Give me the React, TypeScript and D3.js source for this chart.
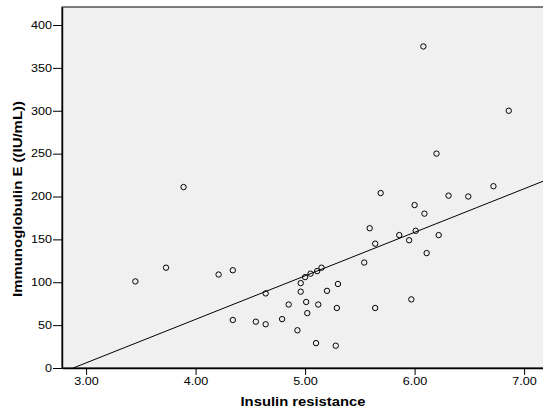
import React, { useEffect, useRef } from "react";
import * as d3 from "d3";

// Insulin resistance (x) vs Immunoglobulin E in IU/mL (y)
const insulinResistance = [
  3.89, 5.69, 6.31, 6.49, 6.72, 6.0, 6.09, 5.59, 5.86, 6.01, 6.22, 5.95, 5.64,
  6.11, 5.54, 3.45, 3.73, 4.21, 4.34, 5.15, 5.11, 5.05, 5.0, 4.96, 5.3, 4.64,
  4.96, 5.2, 5.97, 4.85, 5.01, 5.12, 5.29, 5.64, 5.02, 4.34, 4.55, 4.64, 4.79,
  4.93, 5.1, 5.28, 6.08, 6.86, 6.2,
];
const immunoglobulinE = [
  211, 204, 201, 200, 212, 190, 180, 163, 155, 160, 155, 149, 145, 134, 123,
  101, 117, 109, 114, 117, 113, 110, 106, 99, 98, 87, 89, 90, 80, 74, 77, 74,
  70, 70, 64, 56, 54, 51, 57, 44, 29, 26, 375, 300, 250,
];

// fitted line: y = intercept + slope * x
const fitIntercept = -146.3;
const fitSlope = 50.76;

const xTicks = [3, 4, 5, 6, 7];
const yTicks = [0, 50, 100, 150, 200, 250, 300, 350, 400];

const xLabel = "Insulin resistance";
const yLabel = "Immunoglobulin E ((IU/mL))";

export default function App() {
  const ref = useRef<SVGSVGElement>(null);

  useEffect(() => {
    const width = 543,
      height = 412;
    const margin = { top: 7, left: 62, right: -3, bottom: 44 };
    const font = "'Liberation Sans', Arial, sans-serif";

    const svg = d3.select(ref.current);
    svg.selectAll("*").remove();

    const x = d3
      .scaleLinear()
      .domain([2.78, 7.2])
      .range([margin.left, width - margin.right]);
    const y = d3
      .scaleLinear()
      .domain([0, 421])
      .range([height - margin.bottom, margin.top]);

    const [x0, x1] = x.range();
    const [yb, yt] = y.range();

    // plot background
    svg
      .append("rect")
      .attr("x", x0)
      .attr("y", yt)
      .attr("width", x1 - x0)
      .attr("height", yb - yt)
      .attr("fill", "#f0f0f0")
      .attr("stroke", "#000")
      .attr("stroke-width", 1);

    // fitted line, clipped to y >= 0
    const lineStart = -fitIntercept / fitSlope;
    const lineEnd = x.domain()[1];
    const line = d3
      .line<number>()
      .x((d) => x(d))
      .y((d) => y(fitIntercept + fitSlope * d));
    svg
      .append("path")
      .attr("d", line([lineStart, lineEnd]))
      .attr("fill", "none")
      .attr("stroke", "#000")
      .attr("stroke-width", 1);

    // points
    svg
      .append("g")
      .selectAll("circle")
      .data(insulinResistance.map((v, i) => [v, immunoglobulinE[i]]))
      .enter()
      .append("circle")
      .attr("cx", (d) => x(d[0]))
      .attr("cy", (d) => y(d[1]))
      .attr("r", 2.7)
      .attr("fill", "none")
      .attr("stroke", "#000")
      .attr("stroke-width", 1);

    // x axis
    const gx = svg
      .append("g")
      .attr("transform", `translate(0, ${yb})`)
      .call(
        d3
          .axisBottom(x)
          .tickValues(xTicks)
          .tickSize(7)
          .tickSizeOuter(0)
          .tickPadding(3)
          .tickFormat((d) => d3.format(".2f")(d as number))
      );
    gx.select(".domain").attr("stroke-width", 1.4);

    // y axis
    const gy = svg
      .append("g")
      .attr("transform", `translate(${x0}, 0)`)
      .call(
        d3
          .axisLeft(y)
          .tickValues(yTicks)
          .tickSize(9)
          .tickSizeOuter(0)
          .tickPadding(1)
      );
    gy.select(".domain").attr("stroke-width", 1.4);

    svg
      .selectAll(".tick text")
      .attr("font-family", font)
      .attr("font-size", "10.5px")
      .attr("fill", "#000")
      .attr("transform", "scale(1.2,1)");
    gy.selectAll(".tick text").attr("x", -10 / 1.2);

    // axis titles
    svg
      .append("text")
      .attr("x", 303)
      .attr("y", 406)
      .attr("text-anchor", "middle")
      .attr("font-family", font)
      .attr("font-weight", "bold")
      .attr("font-size", "13px")
      .attr("textLength", 125)
      .attr("lengthAdjust", "spacingAndGlyphs")
      .text(xLabel);

    svg
      .append("text")
      .attr("transform", "translate(22, 199) rotate(-90)")
      .attr("text-anchor", "middle")
      .attr("font-family", font)
      .attr("font-weight", "bold")
      .attr("font-size", "13px")
      .attr("textLength", 196)
      .attr("lengthAdjust", "spacingAndGlyphs")
      .text(yLabel);
  }, []);

  return (
    <svg
      ref={ref}
      width={543}
      height={412}
      style={{ position: "absolute", left: 0, top: 0, background: "#fff" }}
    ></svg>
  );
}
